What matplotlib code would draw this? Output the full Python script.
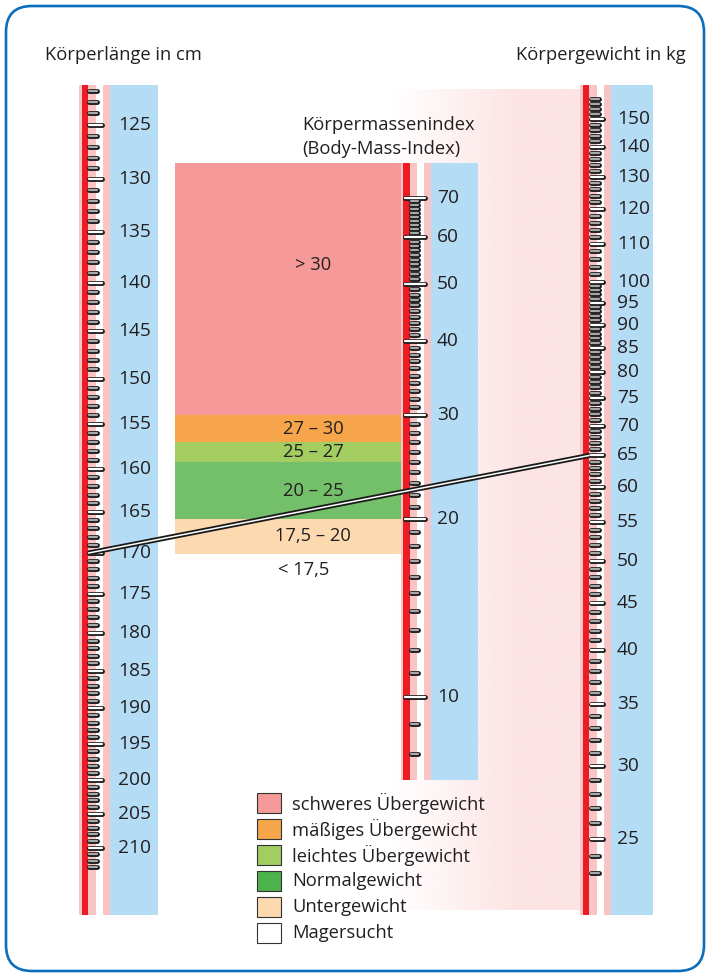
import numpy as np
import matplotlib
matplotlib.use('Agg')
import matplotlib.pyplot as plt
from matplotlib.patches import FancyBboxPatch, Rectangle, ConnectionPatch
from matplotlib.colors import to_rgb

plt.rcParams['font.family'] = ['Open Sans', 'DejaVu Sans']

# --- data -------------------------------------------------------------
height_ticks = list(range(122, 214))                 # cm, one per cm
height_labels = [125, 130, 135, 140, 145, 150, 155, 160, 165, 170,
                 175, 180, 185, 190, 195, 200, 205, 210]

weight_ticks = list(range(23, 100)) + list(range(100, 160, 2))   # kg
weight_labels = [25, 30, 35, 40, 45, 50, 55, 60, 65, 70, 75, 80, 85,
                 90, 95, 100, 110, 120, 130, 140, 150]

bmi_ticks = list(range(8, 71))
bmi_labels = [10, 20, 30, 40, 50, 60, 70]

# BMI classes (lower, upper) - upper None = top of the scale
class_bounds = [(30, None), (27, 30), (25, 27), (20, 25), (17.5, 20)]
class_texts = ['> 30', '27 – 30', '25 – 27', '20 – 25', '17,5 – 20']
class_colors = ['#f59a98', '#f7a54b', '#a3cd61', '#74bf69', '#fdd9b0']
below_text = '< 17,5'

legend_names = ['schweres Übergewicht', 'mäßiges Übergewicht',
                'leichtes Übergewicht', 'Normalgewicht', 'Untergewicht',
                'Magersucht']
legend_colors = ['#f59a98', '#f7a54b', '#a3cd61', '#4cb34c', '#fdd9b0', '#ffffff']

example_height = 170
example_weight = 65

# --- style ------------------------------------------------------------
W, H = 710, 977
RED = '#ec1c24'
PINK = '#f9c5c4'
BLUE = '#b4dcf5'
TXT = '#231f20'
FS = 13.2      # titles, legend, classes
FN = 13.8      # scale numbers

fig = plt.figure(figsize=(W / 100, H / 100), dpi=100)
bg = fig.add_axes([0, 0, 1, 1])
bg.axis('off')


def scale_axes(x0, x1, y0, y1, lim):
    ax = fig.add_axes([x0 / W, 1 - y1 / H, (x1 - x0) / W, (y1 - y0) / H])
    ax.set_xlim(x0, x1)
    ax.set_yscale('log')
    ax.set_ylim(*lim)
    ax.axis('off')
    return ax


def draw_bar(ax, red_x, blue_end):
    bands = [(-2.4, 0, PINK), (0, 6.6, RED), (6.6, 14.3, PINK),
             (14.3, 21, 'white'), (21, 28.3, PINK)]
    for a, b, c in bands:
        ax.axvspan(red_x + a, red_x + b, color=c, lw=0, zorder=1)
    ax.axvspan(red_x + 28.3, blue_end, color=BLUE, lw=0, zorder=1)


def draw_ticks(ax, vals, x0, x1, fill):
    ax.hlines(vals, x0, x1, colors='#1a1a1a', lw=3.5, capstyle='round', zorder=5)
    ax.hlines(vals, x0, x1, colors=fill, lw=1.6, capstyle='round', zorder=6)


# background pink gradient
xs = np.linspace(380, 583, 300)
grad = np.zeros((1, len(xs), 4))
grad[..., :3] = to_rgb('#fde4e4')
grad[0, :, 3] = np.clip((xs - 392) / 125, 0, 1)
bg.imshow(grad, extent=[380, 583, 910, 89], aspect='auto', zorder=0.5,
          interpolation='bilinear')

# frame
bg.add_patch(FancyBboxPatch((6, 6), W - 12, H - 12,
                            boxstyle='round,pad=0,rounding_size=26',
                            fc='none', ec='#0b6fbe', lw=1.9, zorder=3))

# titles
bg.text(45, 55, 'Körperlänge in cm', fontsize=FS, color=TXT, ha='left', va='center')
bg.text(686, 55, 'Körpergewicht in kg', fontsize=FS, color=TXT, ha='right', va='center')
bg.text(302, 125, 'Körpermassenindex', fontsize=FS, color=TXT, ha='left', va='center')
bg.text(302, 149, '(Body-Mass-Index)', fontsize=FS, color=TXT, ha='left', va='center')

# legend
for i, (name, col) in enumerate(zip(legend_names, legend_colors)):
    yc = 803 + 26 * i
    bg.add_patch(Rectangle((257, yc - 10), 24, 20, fc=col, ec='#333333', lw=0.8, zorder=4))
    bg.text(292, yc, name, fontsize=FS, color=TXT, ha='left', va='center', zorder=4)

bg.set_xlim(0, W)
bg.set_ylim(H, 0)

# --- height scale (left) ----------------------------------------------
ax_h = scale_axes(76, 160, 85, 915, (220.4, 121.5))
draw_bar(ax_h, 81.7, 157.7)
minor_h = [v for v in height_ticks if v not in height_labels]
draw_ticks(ax_h, minor_h, 89.4, 97.2, '#a8a8a8')
draw_ticks(ax_h, height_labels, 89.4, 101.9, 'white')
for v in height_labels:
    ax_h.text(118, v, str(v), fontsize=FN, color=TXT, ha='left', va='center')

# --- weight scale (right) ---------------------------------------------
ax_w = scale_axes(577, 656, 85, 915, (20.70, 163.4))
draw_bar(ax_w, 582.7, 652.7)
minor_w = [v for v in weight_ticks if v not in weight_labels]
draw_ticks(ax_w, minor_w, 591.2, 598.6, '#a8a8a8')
draw_ticks(ax_w, weight_labels, 591.2, 602.9, 'white')
for v in weight_labels:
    ax_w.text(617, v, str(v), fontsize=FN, color=TXT, ha='left', va='center')

# --- BMI scale (middle) with classes -----------------------------------
ax_b = scale_axes(170, 480, 163, 780, (7.242, 80.13))
draw_bar(ax_b, 403, 478)
top_b = ax_b.get_ylim()[1]
for (lo, hi), txt, col in zip(class_bounds, class_texts, class_colors):
    hi = top_b if hi is None else hi
    ax_b.fill_between([175, 401], lo, hi, color=col, lw=0, zorder=2)
    yc = 53.9 if txt == '> 30' else np.sqrt(lo * hi)
    ax_b.text(313, yc, txt, fontsize=FS, color=TXT, ha='center', va='center', zorder=3)
ax_b.text(304, 16.4, below_text, fontsize=FS, color=TXT, ha='center', va='center', zorder=3)

minor_b = [v for v in bmi_ticks if v not in bmi_labels]
draw_ticks(ax_b, minor_b, 411.2, 418.2, '#a8a8a8')
draw_ticks(ax_b, bmi_labels, 405.2, 424.8, 'white')
for v in bmi_labels:
    ax_b.text(437, v, str(v), fontsize=FN, color=TXT, ha='left', va='center')

# --- example reading line -----------------------------------------------
for lw, col in [(3.7, '#1a1a1a'), (1.1, 'white')]:
    con = ConnectionPatch(xyA=(88, example_height), coordsA=ax_h.transData,
                          xyB=(590, example_weight), coordsB=ax_w.transData,
                          color=col, lw=lw, capstyle='butt', zorder=10)
    fig.add_artist(con)

fig.savefig('out.png', dpi=100)
